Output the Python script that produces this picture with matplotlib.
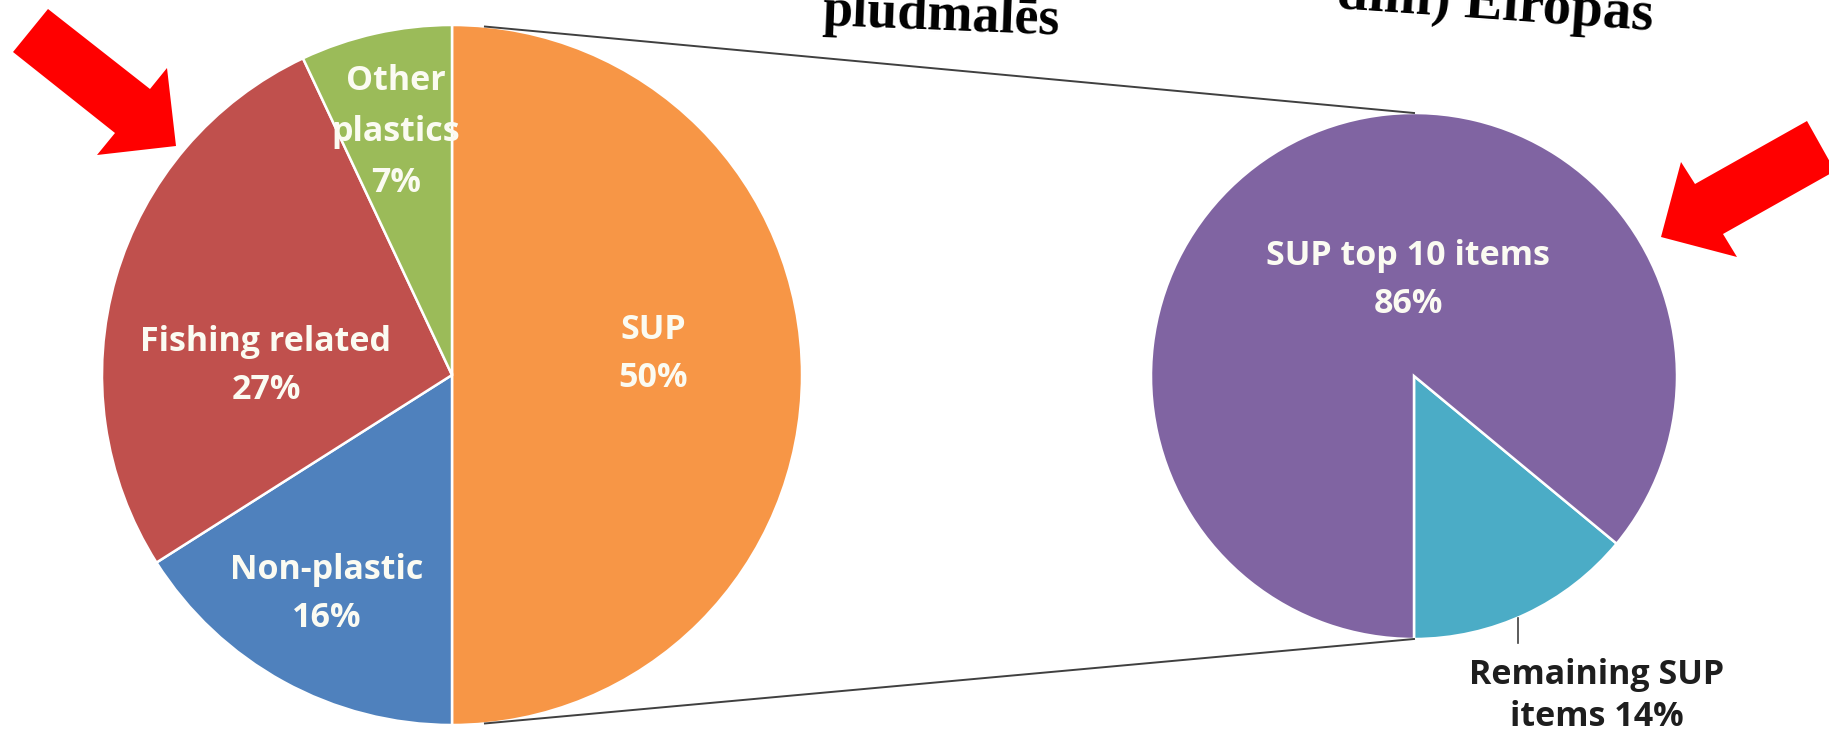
import numpy as np
import matplotlib
matplotlib.use("Agg")
import matplotlib.pyplot as plt
from matplotlib.patches import Polygon

# ---------------- data ----------------
main_labels = ["SUP", "Non-plastic", "Fishing related", "Other plastics"]
main_values = [50, 16, 27, 7]
main_colors = ["#F79646", "#4F81BD", "#C0504D", "#9BBB59"]

sub_labels = ["Remaining SUP items", "SUP top 10 items"]
sub_values = [14, 86]
sub_colors = ["#4BACC6", "#8064A2"]

W, H = 1829, 738
fig = plt.figure(figsize=(W / 100, H / 100), dpi=100)
ax = fig.add_axes([0, 0, 1, 1])

# geometry (pixel space, y up)
c1, r1 = (452, 363), 350
c2, r2 = (1414, 362), 263

ax.pie(main_values, colors=main_colors, startangle=90, counterclock=False,
       center=c1, radius=r1, explode=[0.012, 0, 0, 0],
       wedgeprops=dict(edgecolor="white", linewidth=1.8), frame=True)
ax.pie(sub_values, colors=sub_colors, startangle=-90, counterclock=True,
       center=c2, radius=r2,
       wedgeprops=dict(edgecolor="white", linewidth=1.8), frame=True)
ax.set_xlim(0, W)
ax.set_ylim(0, H)
ax.set_aspect("equal")
ax.axis("off")

# connector lines
ang = np.deg2rad(5.4)
x0 = c1[0] + r1 * np.sin(ang)
ytop = c1[1] + r1 * np.cos(ang)
ybot = c1[1] - r1 * np.cos(ang)
ax.plot([x0, c2[0]], [ytop, c2[1] + r2], color="#404040", lw=1.4, zorder=5)
ax.plot([x0, c2[0]], [ybot, c2[1] - r2], color="#404040", lw=1.4, zorder=5)

# labels
lab_font = dict(family="Open Sans", weight="bold", fontsize=24.5, color="#FBFBF2",
                ha="center", va="center", linespacing=1.55, zorder=6)

def ty(y):
    return H - y

ax.text(266, ty(366), f"{main_labels[2]}\n{main_values[2]}%", **lab_font)
ax.text(327, ty(594), f"{main_labels[1]}\n{main_values[1]}%", **lab_font)
other_font = dict(lab_font)
other_font["linespacing"] = 1.65
ax.text(396, ty(132), "Other\nplastics\n" + f"{main_values[3]}%", **other_font)
ax.text(653, ty(354), f"{main_labels[0]}\n{main_values[0]}%", **lab_font)
ax.text(1408, ty(280), f"{sub_labels[1]}\n{sub_values[1]}%", **lab_font)

lab_dark = dict(lab_font)
lab_dark["color"] = "#1E1E1E"
lab_dark["linespacing"] = 1.3
ax.text(1597, ty(696), "Remaining SUP\nitems " + f"{sub_values[0]}%", **lab_dark)
ax.plot([1518, 1518], [ty(618), ty(643)], color="#404040", lw=1.2, zorder=5)

# cropped title fragments
title_font = dict(family="Liberation Serif", weight="bold",
                  color="black", va="baseline", zorder=7,
                  rotation_mode="anchor")
ax.text(822, ty(25), "pludmalēs", rotation=-2.3, fontsize=39, ha="left", **title_font)
ax.text(1652, ty(30), "dim) Eiropas", rotation=-4.0, fontsize=41, ha="right", **title_font)

# red arrows
arrow_l = [(48, 9), (150, 89), (167, 68), (176, 146), (97, 155), (115, 133), (13, 52)]
arrow_r = [(1807, 121), (1695, 184), (1681, 162), (1661, 237), (1737, 257),
           (1723, 234), (1835, 171)]
for pts in (arrow_l, arrow_r):
    ax.add_patch(Polygon([(x, H - y) for x, y in pts], closed=True,
                         facecolor="#FF0000", edgecolor="none", zorder=8))

fig.savefig("out.png", dpi=100)
